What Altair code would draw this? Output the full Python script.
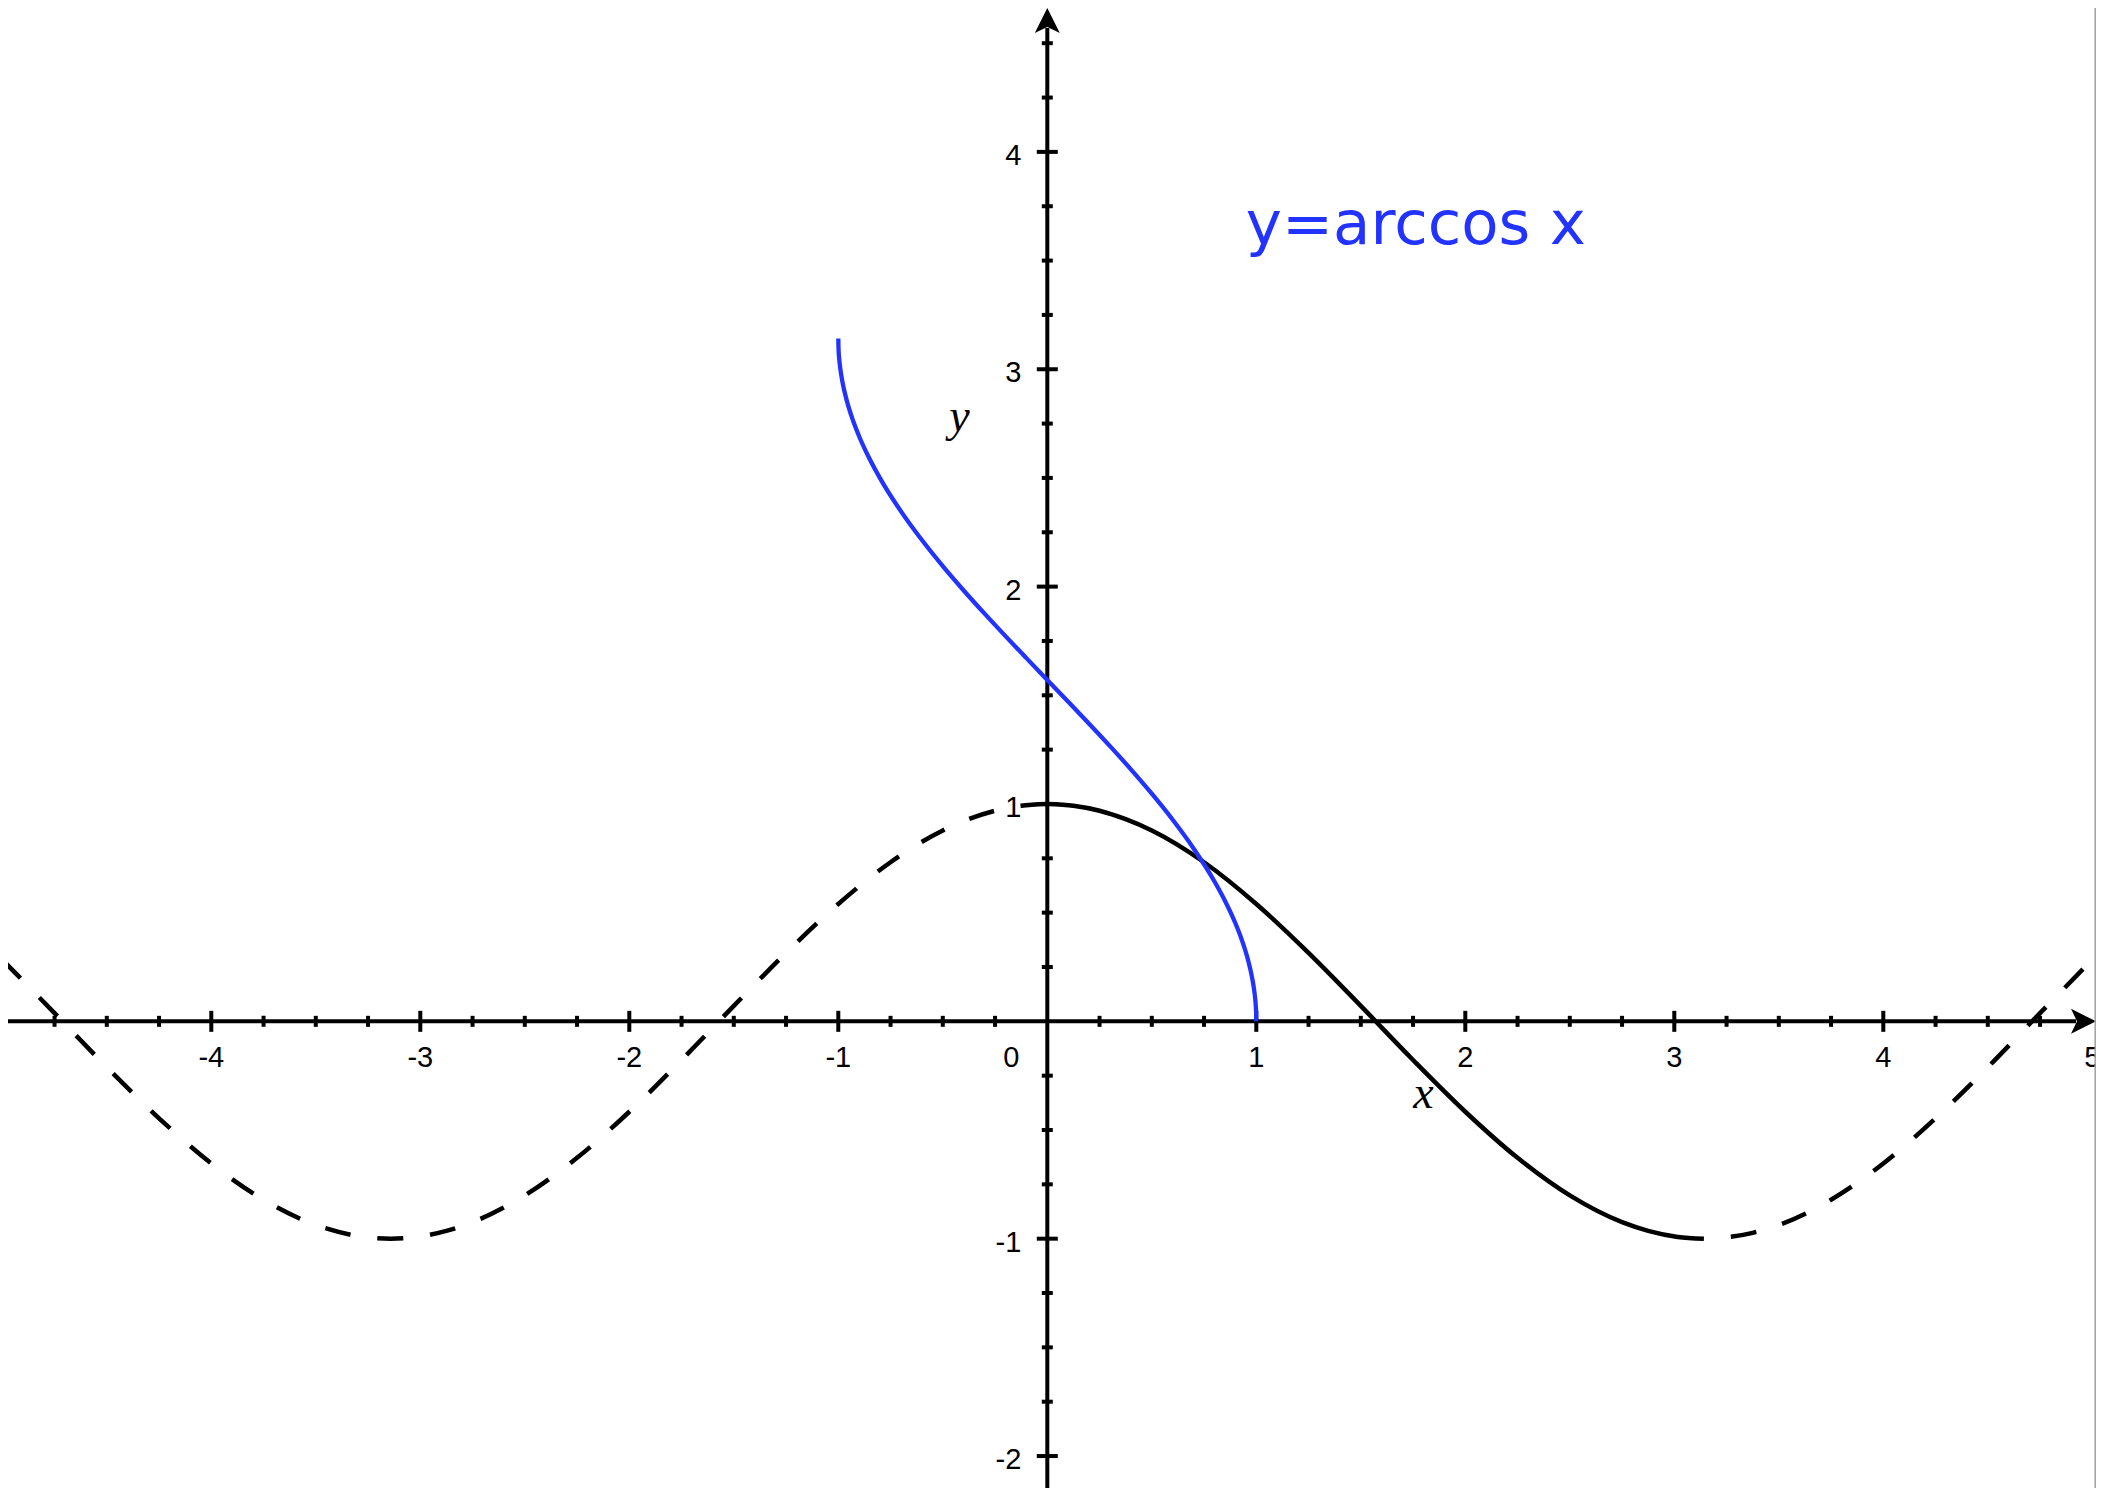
import altair as alt
import pandas as pd

# ---------------- data ----------------
# y = cos x, dashed part left of the y axis
cos_left_x = [-5.0, -4.75, -4.5, -4.25, -4.0, -3.75, -3.5, -3.25, -3.1416, -3.0166, -2.875, -2.75, -2.5,
              -2.25, -2.0, -1.75, -1.5, -1.25, -1.0, -0.75, -0.5, -0.25, -0.125, 0.0]
cos_left_y = [0.284, 0.038, -0.211, -0.446, -0.654, -0.821, -0.937, -0.994, -1.0, -0.992, -0.964, -0.924, -0.801,
              -0.628, -0.416, -0.178, 0.071, 0.315, 0.540, 0.732, 0.878, 0.969, 0.992, 1.0]
# y = cos x, solid part on [0, pi]
cos_mid_x = [0.0, 0.125, 0.25, 0.375, 0.5, 0.75, 1.0, 1.25, 1.5, 1.75, 2.0, 2.25, 2.5, 2.75, 2.875, 3.0166, 3.1416]
cos_mid_y = [1.0, 0.992, 0.969, 0.930, 0.878, 0.732, 0.540, 0.315, 0.071, -0.178, -0.416, -0.628, -0.801,
             -0.924, -0.964, -0.992, -1.0]
# y = cos x, dashed part right of pi
cos_right_x = [3.1416, 3.2666, 3.375, 3.5, 3.75, 4.0, 4.25, 4.5, 4.75, 5.0]
cos_right_y = [-1.0, -0.992, -0.973, -0.937, -0.821, -0.654, -0.446, -0.211, 0.038, 0.284]
# y = arccos x
acos_x = [-1.0, -0.999, -0.995, -0.99, -0.98, -0.96, -0.93, -0.9, -0.85, -0.8, -0.7, -0.6, -0.5, -0.4,
          -0.3, -0.2, -0.1, 0.0, 0.1, 0.2, 0.3, 0.4, 0.5, 0.6, 0.7, 0.8, 0.85, 0.9, 0.93, 0.96,
          0.98, 0.99, 0.995, 0.999, 1.0]
acos_y = [3.1416, 3.0969, 3.0415, 3.0001, 2.9413, 2.8578, 2.7652, 2.6906, 2.5868, 2.4981, 2.3462, 2.2143,
          2.0944, 1.9823, 1.8755, 1.7722, 1.6710, 1.5708, 1.4706, 1.3694, 1.2661, 1.1593, 1.0472,
          0.9273, 0.7954, 0.6435, 0.5548, 0.4510, 0.3764, 0.2838, 0.2003, 0.1415, 0.1001, 0.0447, 0.0]

x_major = [-4, -3, -2, -1, 1, 2, 3, 4]
x_labels = ["-4", "-3", "-2", "-1", "1", "2", "3", "4"]
x_edge_label_pos = [5]
x_edge_label = ["5"]
x_minor = [v / 4 for v in range(-19, 20) if v % 4 != 0]
y_major = [-2, -1, 1, 2, 3, 4]
y_labels = ["-2", "-1", "1", "2", "3", "4"]
y_minor = [v / 4 for v in range(-8, 19) if v % 4 != 0]

title_text = ["y=arccos x"]
title_pos = [0.950, 3.576]
xname_pos = [1.80, -0.40]
yname_pos = [-0.42, 2.716]

# ---------------- scales ----------------
XMIN, XMAX = -4.9727, 5.0177
YMIN, YMAX = -2.147, 4.662
W, H = 2088, 1480
PXX = W / (XMAX - XMIN)
PXY = H / (YMAX - YMIN)

BLUE = "#2233ff"
xs = alt.Scale(domain=[XMIN, XMAX], nice=False, zero=False)
ys = alt.Scale(domain=[YMIN, YMAX], nice=False, zero=False)


def X(f="x"):
    return alt.X(f"{f}:Q", scale=xs, axis=None)


def Y(f="y"):
    return alt.Y(f"{f}:Q", scale=ys, axis=None)


def curve(xv, yv, color, width, dash=None, offset=None):
    kw = dict(color=color, strokeWidth=width, interpolate="monotone", clip=True, strokeCap="butt")
    if dash:
        kw["strokeDash"] = dash
    if offset is not None:
        kw["strokeDashOffset"] = offset
    return alt.Chart(pd.DataFrame({"x": xv, "y": yv})).mark_line(**kw).encode(x=X(), y=Y())


# axis lines
xaxis = alt.Chart(pd.DataFrame({"x": [XMIN], "x2": [XMAX - 20 / PXX], "y": [0]})).mark_rule(
    color="black", strokeWidth=4).encode(x=X(), x2="x2:Q", y=Y())
yaxis = alt.Chart(pd.DataFrame({"x": [0], "y": [YMIN], "y2": [YMAX - 20 / PXY]})).mark_rule(
    color="black", strokeWidth=4).encode(x=X(), y=Y(), y2="y2:Q")

x_arrow = alt.Chart(pd.DataFrame({"x": [XMAX - 12.5 / PXX], "y": [0]})).mark_point(
    shape="M1,0L-1,-1L-0.52,0L-1,1Z", size=625, filled=True, color="black", opacity=1,
    strokeWidth=0).encode(x=X(), y=Y())
y_arrow = alt.Chart(pd.DataFrame({"x": [0], "y": [YMAX - 12.5 / PXY]})).mark_point(
    shape="M0,-1L-1,1L0,0.52L1,1Z", size=625, filled=True, color="black", opacity=1,
    strokeWidth=0).encode(x=X(), y=Y())

x_major_ticks = alt.Chart(pd.DataFrame({"x": x_major, "y": [0] * len(x_major)})).mark_tick(
    orient="vertical", size=21, thickness=4, color="black", opacity=1).encode(x=X(), y=Y())
x_minor_ticks = alt.Chart(pd.DataFrame({"x": x_minor, "y": [0] * len(x_minor)})).mark_tick(
    orient="vertical", size=11, thickness=4, color="black", opacity=1).encode(x=X(), y=Y())
y_major_ticks = alt.Chart(pd.DataFrame({"x": [0] * len(y_major), "y": y_major})).mark_tick(
    orient="horizontal", size=21, thickness=4, color="black", opacity=1).encode(x=X(), y=Y())
y_minor_ticks = alt.Chart(pd.DataFrame({"x": [0] * len(y_minor), "y": y_minor})).mark_tick(
    orient="horizontal", size=11, thickness=4, color="black", opacity=1).encode(x=X(), y=Y())

LBL = dict(font="Liberation Sans", fontSize=29, color="black")
x_tick_text = alt.Chart(pd.DataFrame({"x": x_major + x_edge_label_pos, "y": [0] * 9,
                                      "t": x_labels + x_edge_label})).mark_text(
    align="center", baseline="alphabetic", dy=46, clip=True, **LBL).encode(x=X(), y=Y(), text="t:N")
zero_text = alt.Chart(pd.DataFrame({"x": [0], "y": [0], "t": ["0"]})).mark_text(
    align="right", baseline="alphabetic", dx=-28, dy=46, **LBL).encode(x=X(), y=Y(), text="t:N")
y_tick_text = alt.Chart(pd.DataFrame({"x": [0] * len(y_major), "y": y_major, "t": y_labels})).mark_text(
    align="right", baseline="alphabetic", dx=-26, dy=13, **LBL).encode(x=X(), y=Y(), text="t:N")

title = alt.Chart(pd.DataFrame({"x": [title_pos[0]], "y": [title_pos[1]], "t": title_text})).mark_text(
    align="left", baseline="alphabetic", font="DejaVu Sans", fontSize=61, color=BLUE).encode(
    x=X(), y=Y(), text="t:N")
xname = alt.Chart(pd.DataFrame({"x": [xname_pos[0]], "y": [xname_pos[1]], "t": ["x"]})).mark_text(
    align="center", baseline="alphabetic", font="Liberation Serif", fontStyle="italic", fontSize=46,
    color="black").encode(x=X(), y=Y(), text="t:N")
yname = alt.Chart(pd.DataFrame({"x": [yname_pos[0]], "y": [yname_pos[1]], "t": ["y"]})).mark_text(
    align="center", baseline="alphabetic", font="Liberation Serif", fontStyle="italic", fontSize=46,
    color="black").encode(x=X(), y=Y(), text="t:N")

border = alt.Chart(pd.DataFrame({"x": [XMAX - 0.8 / PXX], "y": [YMIN], "y2": [YMAX]})).mark_rule(
    color="#a0a0a0", strokeWidth=1.5).encode(x=X(), y=Y(), y2="y2:Q")

chart = alt.layer(
    xaxis, yaxis, x_major_ticks, x_minor_ticks, y_major_ticks, y_minor_ticks,
    x_tick_text, zero_text, y_tick_text,
    curve(cos_left_x, cos_left_y, "black", 4.5, [26, 27]),
    curve(cos_mid_x, cos_mid_y, "black", 4.5),
    curve(cos_right_x, cos_right_y, "black", 4.5, [26, 27], 26),
    curve(acos_x, acos_y, BLUE, 4.3),
    x_arrow, y_arrow, title, xname, yname, border,
).properties(width=W, height=H, padding=0, autosize="none", background="white").configure_view(
    stroke=None)

chart.save("out.html", embed_options={"renderer": "svg", "actions": False})
